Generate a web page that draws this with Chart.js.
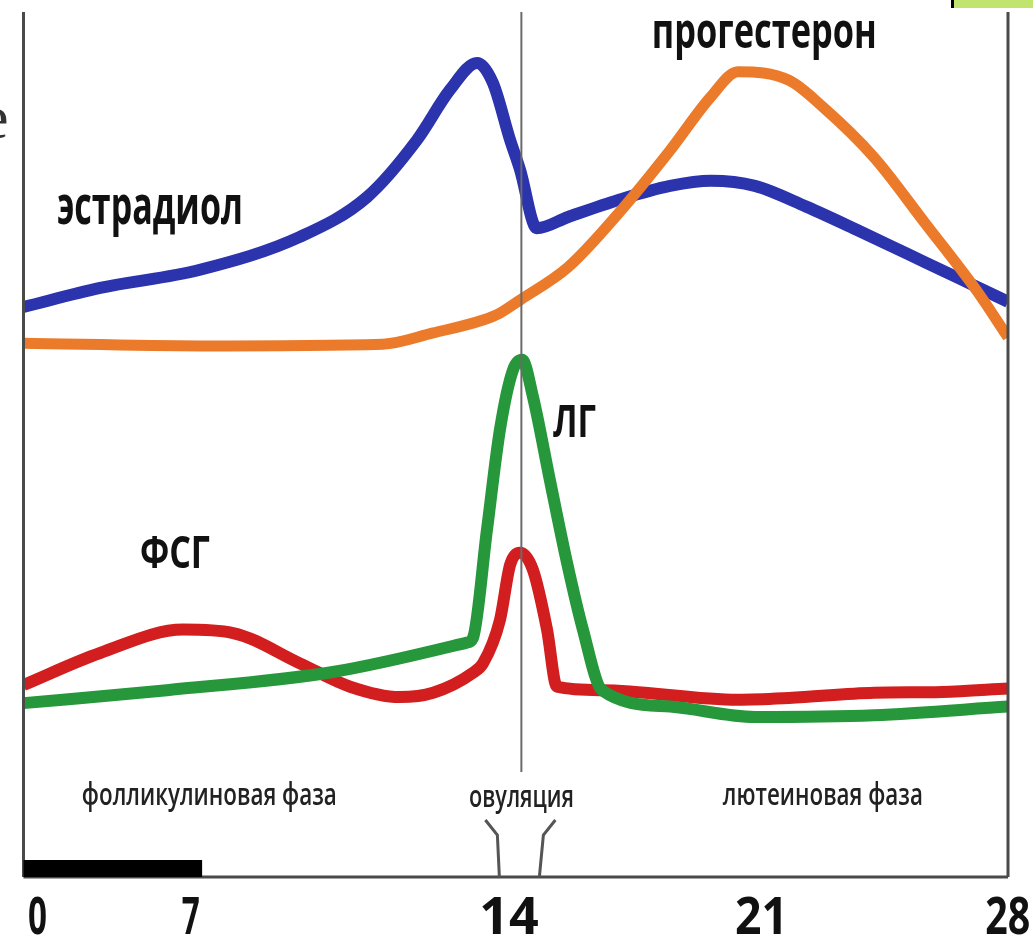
<!DOCTYPE html>
<html>
<head>
<meta charset="utf-8">
<script src="https://cdn.jsdelivr.net/npm/chart.js@4.4.1/dist/chart.umd.min.js"></script>
<style>
  html, body { margin: 0; padding: 0; background: #ffffff; }
  #wrap { width: 1033px; height: 943px; position: relative; }
</style>
</head>
<body>
<div id="wrap"><canvas id="c" width="1033" height="943"></canvas></div>
<script>
// ---- data (x in cycle days, y in relative level 0..100) ----
const estradiolDays   = [0, 2.18, 5.02, 7.86, 9.77, 11.19, 12.13, 12.90, 13.35, 13.84, 14.12, 14.60, 15.49, 16.94, 18.39, 19.55, 20.80, 22.26, 23.71, 25.16, 26.61, 28];
const estradiolLevels = [65.9, 68.1, 70.2, 74.0, 78.6, 85.2, 91.0, 94.1, 91.8, 85.2, 81.8, 75.0, 76.3, 78.3, 79.9, 80.5, 79.9, 77.5, 74.8, 72.0, 69.2, 66.5];

const progesteroneDays   = [0, 5.02, 10.22, 11.65, 13.07, 13.55, 14.12, 15.49, 16.94, 18.39, 19.55, 20.32, 21.77, 22.74, 24.19, 25.64, 27.09, 28];
const progesteroneLevels = [61.7, 61.4, 61.6, 62.9, 64.4, 65.2, 66.7, 70.5, 76.8, 84.0, 90.2, 93.1, 92.1, 89.0, 83.2, 75.6, 67.9, 62.4];

const fshDays   = [0, 2.18, 4.54, 5.96, 7.86, 9.29, 10.70, 11.65, 12.78, 13.07, 13.55, 13.84, 14.12, 14.49, 14.89, 15.17, 16.45, 20.32, 21.77, 24.19, 26.12, 28];
const fshLevels = [22.2, 25.9, 28.6, 28.2, 24.7, 22.0, 20.8, 21.3, 23.6, 24.7, 29.7, 36.1, 37.5, 35.5, 28.6, 22.0, 21.6, 20.5, 20.7, 21.3, 21.4, 21.8];

const lhDays   = [0, 4.08, 8.80, 12.61, 12.78, 13.18, 13.55, 13.92, 14.18, 14.49, 14.97, 15.46, 15.91, 16.45, 18.39, 20.80, 24.19, 28];
const lhLevels = [20.1, 21.6, 23.7, 27.1, 27.6, 40.1, 51.7, 58.6, 59.8, 55.5, 45.9, 36.3, 28.6, 21.6, 19.7, 18.5, 18.7, 19.7];

const tickLabels = ['0', '7', '14', '21', '28'];
const tickDays   = [0.4, 4.76, 13.81, 20.99, 27.99];
const ovulationDay = 14.16;
const follicularBarEnd = 5.08;

// annotation texts (anchor in data units)
const hormoneNames = ['эстрадиол', 'прогестерон', 'ФСГ', 'ЛГ'];
const phaseNames = ['фолликулиновая фаза', 'овуляция', 'лютеиновая фаза'];

const pts = (xs, ys) => xs.map((x, i) => ({ x: x, y: ys[i] }));

function fitText(ctx, s, x, y, font, maxW, align) {
  ctx.font = font;
  ctx.textAlign = align || 'left';
  ctx.textBaseline = 'alphabetic';
  const w = ctx.measureText(s).width;
  if (w > maxW) ctx.fillText(s, x, y, maxW); else ctx.fillText(s, x, y);
}

const decor = {
  id: 'decor',
  afterDatasetsDraw(chart) {
    const ctx = chart.ctx;
    const a = chart.chartArea;
    const xs = chart.scales.x, ys = chart.scales.y;
    ctx.save();
    // frame
    ctx.strokeStyle = '#4a4a4a';
    ctx.lineWidth = 3;
    ctx.beginPath();
    ctx.moveTo(a.left, a.top); ctx.lineTo(a.left, a.bottom);
    ctx.moveTo(a.right, a.top); ctx.lineTo(a.right, a.bottom);
    ctx.moveTo(a.left, a.bottom); ctx.lineTo(a.right, a.bottom);
    ctx.stroke();
    // ovulation line
    const cx = xs.getPixelForValue(ovulationDay);
    ctx.strokeStyle = '#6a6a6a';
    ctx.lineWidth = 2;
    ctx.beginPath();
    ctx.moveTo(cx, a.top); ctx.lineTo(cx, a.bottom - 105);
    ctx.stroke();
    // ovulation bracket
    ctx.strokeStyle = '#555';
    ctx.lineWidth = 3;
    ctx.beginPath();
    ctx.moveTo(cx - 36, a.bottom - 57); ctx.lineTo(cx - 24, a.bottom - 42); ctx.lineTo(cx - 22, a.bottom);
    ctx.moveTo(cx + 34, a.bottom - 57); ctx.lineTo(cx + 22, a.bottom - 42); ctx.lineTo(cx + 18, a.bottom);
    ctx.stroke();
    // follicular bar
    ctx.fillStyle = '#000';
    const bx = xs.getPixelForValue(follicularBarEnd);
    ctx.fillRect(a.left, a.bottom - 17, bx - a.left, 17);

    // hormone labels
    ctx.fillStyle = '#111';
    fitText(ctx, hormoneNames[0], xs.getPixelForValue(0.95), ys.getPixelForValue(75.5), 'bold 54px "Open Sans"', 186);
    fitText(ctx, hormoneNames[1], xs.getPixelForValue(17.87), ys.getPixelForValue(95.8), 'bold 50px "Open Sans"', 225);
    fitText(ctx, hormoneNames[2], xs.getPixelForValue(3.31), ys.getPixelForValue(35.7), 'bold 44px "Open Sans"', 70);
    fitText(ctx, hormoneNames[3], xs.getPixelForValue(15.06), ys.getPixelForValue(50.9), 'bold 44px "Open Sans"', 43);
    // phase labels
    ctx.fillStyle = '#222';
    fitText(ctx, phaseNames[0], xs.getPixelForValue(1.66), ys.getPixelForValue(8.3), '600 30px "Open Sans"', 255);
    fitText(ctx, phaseNames[1], xs.getPixelForValue(12.67), ys.getPixelForValue(8.1), '600 30px "Open Sans"', 105);
    fitText(ctx, phaseNames[2], xs.getPixelForValue(19.89), ys.getPixelForValue(8.3), '600 30px "Open Sans"', 200);
    // tick labels
    ctx.fillStyle = '#111';
    const tickW = [19, 18, 60, 53, 45];
    tickLabels.forEach((t, i) => {
      fitText(ctx, t, xs.getPixelForValue(tickDays[i]), a.bottom + 57, 'bold 52px "Open Sans"', tickW[i], 'center');
    });
    // slide fragments
    ctx.fillStyle = '#c0e46e';
    ctx.fillRect(952, 0, 81, 8);
    ctx.fillStyle = '#000';
    ctx.fillRect(951, 0, 3, 8);
    ctx.fillStyle = '#333';
    ctx.font = '62px "Liberation Serif"';
    ctx.textAlign = 'left';
    ctx.fillText('е', -19, 138);
    ctx.restore();
  }
};

const common = { pointRadius: 0, borderWidth: 12, cubicInterpolationMode: 'monotone', fill: false, borderJoinStyle: 'round' };

new Chart(document.getElementById('c'), {
  type: 'line',
  data: {
    datasets: [
      Object.assign({ label: 'ЛГ', data: pts(lhDays, lhLevels), borderColor: '#26973b' }, common),
      Object.assign({ label: 'ФСГ', data: pts(fshDays, fshLevels), borderColor: '#d21e1e' }, common),
      Object.assign({ label: 'прогестерон', data: pts(progesteroneDays, progesteroneLevels), borderColor: '#eb7a2b' }, common, { borderWidth: 11 }),
      Object.assign({ label: 'эстрадиол', data: pts(estradiolDays, estradiolLevels), borderColor: '#2b33ad' }, common)
    ]
  },
  options: {
    responsive: false,
    animation: false,
    events: [],
    layout: { padding: { left: 23.5, right: 25, top: 12, bottom: 66 } },
    plugins: { legend: { display: false }, tooltip: { enabled: false } },
    scales: {
      x: { type: 'linear', min: 0, max: 28, display: false },
      y: { type: 'linear', min: 0, max: 100, display: false }
    }
  },
  plugins: [decor]
});
</script>
</body>
</html>
